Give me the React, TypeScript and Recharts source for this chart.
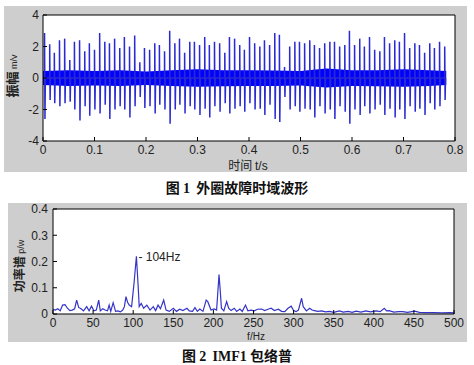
import React from "react";
import {
    ComposedChart,
    Line,
    Area,
    XAxis,
    YAxis,
    CartesianGrid,
    ReferenceDot
} from "recharts";

// ---- Fig 1: time-domain waveform (outer race fault) ----
const impulseTimes = [
    0.003, 0.013, 0.022, 0.032, 0.042, 0.052, 0.061, 0.071, 0.081, 0.090,
    0.100, 0.110, 0.120, 0.129, 0.139, 0.149, 0.158, 0.168, 0.178, 0.188,
    0.197, 0.207, 0.217, 0.226, 0.236, 0.246, 0.256, 0.265, 0.275, 0.285,
    0.294, 0.304, 0.314, 0.323, 0.333, 0.343, 0.353, 0.362, 0.372, 0.382,
    0.391, 0.401, 0.411, 0.421, 0.430, 0.440, 0.450, 0.459, 0.469, 0.479,
    0.489, 0.498, 0.508, 0.518, 0.527, 0.537, 0.547, 0.557, 0.566, 0.576,
    0.586, 0.595, 0.605, 0.615, 0.624, 0.634, 0.644, 0.654, 0.663, 0.673,
    0.683, 0.692, 0.702, 0.712, 0.722, 0.731, 0.741, 0.751, 0.760, 0.770,
    0.780
];
const peakUp = [
    2.85, 2.15, 1.6, 2.4, 2.5, 1.15, 2.3, 2.4, 1.7, 2.2,
    1.8, 2.85, 2.3, 2.2, 2.5, 1.9, 2.6, 2.0, 2.7, 1.0,
    1.9, 1.8, 2.2, 2.1, 1.7, 3.0, 2.2, 2.5, 1.6, 2.3,
    2.3, 2.1, 2.6, 2.1, 2.3, 2.2, 1.6, 2.6, 2.5, 2.1,
    1.8, 2.6, 2.2, 2.0, 2.4, 2.1, 2.85, 2.75, 0.7, 2.0,
    2.3, 2.3, 2.2, 2.4, 2.1, 1.9, 2.2, 2.3, 2.3, 2.0,
    2.1, 3.0, 2.1, 2.5, 2.0, 2.6, 1.8, 1.7, 2.6, 2.2,
    2.4, 2.3, 2.85, 1.9, 2.2, 2.1, 1.6, 2.2, 1.9, 2.3,
    2.0
];
const peakDown = [
    2.6, 1.4, 1.6, 1.8, 1.6, 1.5, 2.0, 2.7, 1.8, 2.4,
    2.0, 2.25, 1.7, 2.6, 2.0, 1.8, 2.0, 2.5, 1.8, 1.2,
    1.9, 1.8, 2.25, 1.7, 2.0, 2.9, 2.0, 1.7, 2.25, 1.8,
    2.0, 2.35, 1.95, 2.5, 1.8, 2.15, 1.6, 2.25, 1.95, 1.8,
    2.15, 1.6, 2.0, 1.95, 2.35, 1.7, 2.6, 2.8, 1.2, 2.0,
    1.8, 2.15, 1.95, 2.0, 2.5, 1.8, 2.25, 2.0, 2.6, 1.8,
    2.15, 2.9, 2.0, 2.35, 1.8, 2.25, 2.0, 1.7, 2.35, 1.95,
    2.5, 2.0, 2.6, 1.8, 2.15, 1.95, 2.35, 1.6, 2.0, 1.8,
    1.4
];
// dense background vibration band (envelope)
const bandTimes = [0, 0.05, 0.1, 0.15, 0.2, 0.25, 0.3, 0.35, 0.4, 0.45, 0.5, 0.55, 0.6, 0.65, 0.7, 0.75, 0.783];
const bandHigh = [0.45, 0.5, 0.45, 0.5, 0.42, 0.5, 0.55, 0.5, 0.5, 0.48, 0.45, 0.6, 0.5, 0.5, 0.55, 0.5, 0.45];
const bandLow = [-0.45, -0.5, -0.48, -0.5, -0.45, -0.5, -0.55, -0.52, -0.5, -0.5, -0.48, -0.6, -0.5, -0.52, -0.55, -0.5, -0.45];
const waveTicksX = [0, 0.1, 0.2, 0.3, 0.4, 0.5, 0.6, 0.7, 0.8];
const waveTicksY = [-4, -2, 0, 2, 4];

// ---- Fig 2: IMF1 envelope spectrum ----
const specFreq = [
    0, 3, 6, 9, 12, 15, 18, 21, 24, 27, 29.5, 32, 35, 38, 42, 45, 48, 51, 54, 57,
    59, 62, 65, 68, 70, 72, 75, 78, 81, 84, 87, 89, 91, 93, 95, 98, 101, 104, 106, 107.5,
    110, 113, 117, 121, 125, 128, 131, 134, 138, 141, 145, 150, 154, 158, 162, 167, 170, 174, 177, 180,
    183, 187, 191, 193, 197, 201, 204, 207, 208.5, 210, 213, 216.5, 219, 222, 226, 229, 233, 236, 240, 243,
    247, 251, 255, 260, 264, 268, 272, 276, 281, 285, 289, 293, 297, 300, 303, 306, 310, 312, 316, 320,
    323, 326, 330, 335, 340, 345, 350, 357, 362, 368, 373, 378, 384, 390, 396, 403, 408, 413, 416, 419,
    425, 431, 436, 442, 451, 457, 465, 475, 485, 495, 500
];
const specPower = [
    0.018, 0.015, 0.02, 0.012, 0.034, 0.036, 0.022, 0.013, 0.015, 0.02, 0.053, 0.025, 0.02, 0.012, 0.028, 0.012, 0.03, 0.012, 0.015, 0.053,
    0.012, 0.02, 0.015, 0.012, 0.034, 0.01, 0.043, 0.01, 0.012, 0.008, 0.015, 0.028, 0.066, 0.045, 0.034, 0.028, 0.116, 0.22, 0.116, 0.028,
    0.04, 0.022, 0.034, 0.015, 0.028, 0.013, 0.034, 0.02, 0.053, 0.015, 0.01, 0.022, 0.01, 0.018, 0.013, 0.022, 0.012, 0.01, 0.024, 0.01,
    0.019, 0.01, 0.053, 0.047, 0.015, 0.019, 0.015, 0.15, 0.09, 0.022, 0.012, 0.047, 0.022, 0.013, 0.022, 0.01, 0.019, 0.01, 0.034, 0.012,
    0.015, 0.012, 0.018, 0.019, 0.013, 0.018, 0.022, 0.013, 0.018, 0.01, 0.009, 0.022, 0.03, 0.013, 0.009, 0.015, 0.06, 0.028, 0.012, 0.022,
    0.015, 0.013, 0.01, 0.012, 0.008, 0.01, 0.006, 0.012, 0.007, 0.01, 0.006, 0.011, 0.007, 0.012, 0.008, 0.012, 0.009, 0.022, 0.012, 0.013,
    0.007, 0.009, 0.009, 0.006, 0.011, 0.006, 0.005, 0.005, 0.004, 0.005, 0.004
];
const specTicksX = [0, 50, 100, 150, 200, 250, 300, 350, 400, 450, 500];
const specTicksY = [0, 0.1, 0.2, 0.3, 0.4];

const bandData = bandTimes.map((t, i) => ({ t, band: [bandLow[i], bandHigh[i]] }));
const spikeData = impulseTimes.flatMap((t, i) => [
    { t, v: 0 },
    { t, v: peakUp[i] },
    { t: t + 0.0008, v: -peakDown[i] },
    { t: t + 0.0016, v: 0 }
]);
const specData = specFreq.map((f, i) => ({ f, p: specPower[i] }));

const sans = '"Liberation Sans", Arial, sans-serif';
const tickFont = { fill: "#222", fontSize: 12, fontFamily: sans };
const noLabel = () => "";
const cjk = '"Noto Sans CJK SC", sans-serif';
const serif = '"Liberation Serif", "Times New Roman", serif';

const WaveChart = () => (
    <ComposedChart width={474} height={180} margin={{ top: 14, right: 18, bottom: 14, left: 13 }}>
        <CartesianGrid horizontal={false} vertical={false} fill="#fff" />
        <XAxis xAxisId="b" dataKey="t" type="number" domain={[0, 0.8]} ticks={waveTicksX}
            stroke="#000" tickSize={-4} tickMargin={8} tick={tickFont} height={25} allowDataOverflow />
        <XAxis xAxisId="t" orientation="top" type="number" domain={[0, 0.8]} ticks={waveTicksX}
            stroke="#000" tickSize={-4} tick={false} height={1} />
        <YAxis yAxisId="l" type="number" domain={[-4, 4]} ticks={waveTicksY}
            stroke="#000" tickSize={-4} tickMargin={8} tick={tickFont} width={30} />
        <YAxis yAxisId="r" orientation="right" type="number" domain={[-4, 4]} ticks={waveTicksY}
            stroke="#000" tickSize={-4} tick={false} width={1} />
        <Area xAxisId="b" yAxisId="l" data={bandData} dataKey="band" type="linear"
            stroke="none" fill="#0000ff" fillOpacity={1} isAnimationActive={false} />
        <Line xAxisId="b" yAxisId="l" data={spikeData} dataKey="v" type="linear"
            stroke="#2a2ad2" strokeWidth={1.5} dot={false} activeDot={false} isAnimationActive={false} />
    </ComposedChart>
);

const SpectrumChart = () => (
    <ComposedChart width={474} height={160} margin={{ top: 18, right: 19, bottom: 11, left: 18 }}>
        <CartesianGrid horizontal={false} vertical={false} fill="#fff" />
        <XAxis xAxisId="b" dataKey="f" type="number" domain={[0, 500]} ticks={specTicksX}
            stroke="#000" tickSize={-4} tickMargin={8} tick={tickFont} height={25} allowDataOverflow />
        <XAxis xAxisId="t" orientation="top" type="number" domain={[0, 500]} ticks={specTicksX}
            stroke="#000" tickSize={-4} tick={false} height={1} />
        <YAxis yAxisId="l" type="number" domain={[0, 0.4]} ticks={specTicksY}
            stroke="#000" tickSize={-4} tickMargin={9} tick={tickFont} width={35} />
        <YAxis yAxisId="r" orientation="right" type="number" domain={[0, 0.4]} ticks={specTicksY}
            stroke="#000" tickSize={-4} tick={false} tickFormatter={noLabel} width={1} />
        <Line xAxisId="b" yAxisId="l" data={specData} dataKey="p" type="linear"
            stroke="#3434c8" strokeWidth={1.2} dot={false} activeDot={false} isAnimationActive={false} />
        <ReferenceDot xAxisId="b" yAxisId="l" x={104} y={0.22} r={0} fill="none" stroke="none"
            label={{ value: "- 104Hz", position: "right", offset: 2, fontSize: 12, fill: "#222", fontFamily: sans }} />
    </ComposedChart>
);

export default function App() {
    return (
        <div style={{ position: "absolute", left: 0, top: 0, width: 474, height: 365, background: "#fff", overflow: "hidden" }}>
            {/* grey figure panels */}
            <div style={{ position: "absolute", left: 4, top: 6, width: 463, height: 166, background: "#cecece" }} />
            <div style={{ position: "absolute", left: 8, top: 203, width: 459, height: 139, background: "#cecece" }} />

            <div style={{ position: "absolute", left: 0, top: 0 }}>
                <WaveChart />
            </div>
            <div style={{ position: "absolute", left: 0, top: 190 }}>
                <SpectrumChart />
            </div>

            {/* axis titles */}
            <div style={{ position: "absolute", left: 13, top: 76, transform: "translate(-50%, -50%) rotate(-90deg)",
                whiteSpace: "nowrap", fontFamily: cjk, fontSize: 13, fontWeight: 700, color: "#222", lineHeight: "14px" }}>
                振幅<span style={{ fontSize: 9, fontWeight: 400, fontFamily: sans }}> m/v</span>
            </div>
            <div style={{ position: "absolute", left: 248, top: 165, transform: "translate(-50%, -50%)",
                whiteSpace: "nowrap", fontFamily: cjk, fontSize: 12, color: "#222", lineHeight: "13px" }}>
                时间 <span style={{ fontFamily: sans }}>t/s</span>
            </div>
            <div style={{ position: "absolute", left: 20, top: 266, transform: "translate(-50%, -50%) rotate(-90deg)",
                whiteSpace: "nowrap", fontFamily: cjk, fontSize: 12, fontWeight: 700, color: "#222", lineHeight: "14px" }}>
                功率谱<span style={{ fontSize: 9, fontWeight: 400, fontFamily: sans }}> p/w</span>
            </div>
            <div style={{ position: "absolute", left: 256, top: 336, transform: "translate(-50%, -50%)",
                whiteSpace: "nowrap", fontFamily: sans, fontSize: 10, color: "#222", lineHeight: "11px" }}>
                f/Hz
            </div>

            {/* figure captions */}
            <div style={{ position: "absolute", left: 0, width: 474, top: 179, textAlign: "center", whiteSpace: "pre",
                fontFamily: cjk, fontSize: 14, fontWeight: 700, color: "#111", lineHeight: "16px" }}>
                图 <span style={{ fontFamily: serif }}>1</span>{"  "}外圈故障时域波形
            </div>
            <div style={{ position: "absolute", left: 0, width: 474, top: 347, textAlign: "center", whiteSpace: "pre",
                fontFamily: cjk, fontSize: 14, fontWeight: 700, color: "#111", lineHeight: "16px" }}>
                图 <span style={{ fontFamily: serif }}>2</span>{"  "}<span style={{ fontFamily: serif }}>IMF1</span> 包络普
            </div>
        </div>
    );
}
